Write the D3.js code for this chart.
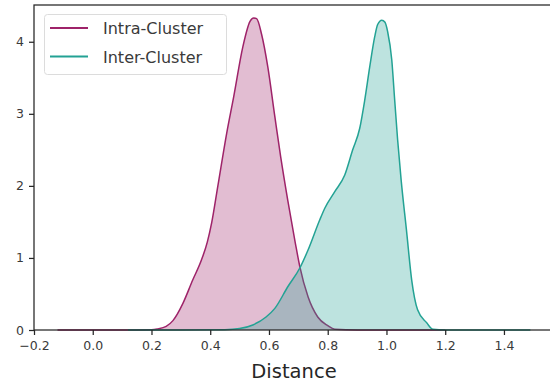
<!DOCTYPE html>
<html>
<head>
<meta charset="utf-8">
<script src="https://cdn.jsdelivr.net/npm/d3@7"></script>
<style>
  body { margin: 0; background: #fff; }
  svg { font-family: "DejaVu Sans", sans-serif; }
</style>
</head>
<body>
<svg id="chart" width="550" height="383"></svg>
<script>
// kde curves
const intraX = [-0.12, 0.0, 0.1, 0.2, 0.22, 0.25, 0.273, 0.307, 0.34, 0.37, 0.39, 0.405, 0.426, 0.456, 0.48, 0.511, 0.535, 0.548, 0.558, 0.575, 0.596, 0.62, 0.64, 0.664, 0.69, 0.705, 0.733, 0.766, 0.8, 0.824, 0.9, 1.0, 1.2];
const intraY = [0, 0, 0, 0.005, 0.015, 0.05, 0.13, 0.37, 0.69, 0.97, 1.22, 1.49, 2.0, 2.73, 3.24, 3.93, 4.28, 4.33, 4.32, 4.1, 3.65, 2.96, 2.4, 1.8, 1.2, 0.88, 0.46, 0.18, 0.06, 0.01, 0, 0, 0];
const interX = [0.12, 0.3, 0.45, 0.5, 0.545, 0.59, 0.62, 0.664, 0.705, 0.733, 0.773, 0.79, 0.824, 0.858, 0.885, 0.909, 0.926, 0.943, 0.96, 0.97, 0.984, 0.995, 1.004, 1.018, 1.028, 1.038, 1.05, 1.068, 1.086, 1.106, 1.137, 1.158, 1.2, 1.49];
const interY = [0, 0, 0.005, 0.02, 0.07, 0.18, 0.3, 0.6, 0.86, 1.11, 1.53, 1.69, 1.92, 2.15, 2.5, 2.8, 3.19, 3.65, 4.07, 4.24, 4.3, 4.27, 4.14, 3.75, 3.19, 2.64, 2.08, 1.39, 0.69, 0.28, 0.1, 0.01, 0, 0];

const seriesNames = ["Intra-Cluster", "Inter-Cluster"];
const seriesColors = ["#9e2369", "#23a294"];
const xTicks = [-0.2, 0.0, 0.2, 0.4, 0.6, 0.8, 1.0, 1.2, 1.4];
const yTicks = [0, 1, 2, 3, 4];

const svg = d3.select("#chart");
const margin = {top: 5, left: 34, bottom: 53};
const width = 550, height = 383;

const x = d3.scaleLinear().domain([-0.2, 1.6]).range([margin.left, 562.7]);
const y = d3.scaleLinear().domain([0, 4.51]).range([height - margin.bottom, margin.top]);

const series = [
    {name: seriesNames[0], color: seriesColors[0], pts: intraX.map((v, i) => [v, intraY[i]])},
    {name: seriesNames[1], color: seriesColors[1], pts: interX.map((v, i) => [v, interY[i]])}
];

let area = d3.area().x(d => x(d[0])).y0(y(0)).y1(d => y(d[1])).curve(d3.curveMonotoneX);
let line = d3.line().x(d => x(d[0])).y(d => y(d[1])).curve(d3.curveMonotoneX);

series.forEach(s => {
    svg.append("path").attr("d", area(s.pts))
        .attr("fill", s.color).attr("fill-opacity", 0.3);
    svg.append("path").attr("d", line(s.pts))
        .attr("fill", "none").attr("stroke", s.color).attr("stroke-width", 1.5);
});

// spines
svg.append("rect")
    .attr("x", margin.left).attr("y", margin.top)
    .attr("width", 600).attr("height", y(0) - margin.top)
    .attr("fill", "none").attr("stroke", "#262626").attr("stroke-width", 1.25);

let xAxis = svg.append("g").attr("transform", "translate(0," + y(0) + ")")
    .call(d3.axisBottom(x).tickValues(xTicks).tickSize(5).tickPadding(6)
        .tickFormat(d => d < 0 ? "\u22120.2" : d3.format(".1f")(d)));
let yAxis = svg.append("g").attr("transform", "translate(" + margin.left + ",0)")
    .call(d3.axisLeft(y).tickValues(yTicks).tickSize(5).tickPadding(5).tickFormat(d3.format("d")));

[xAxis, yAxis].forEach(a => {
    a.select(".domain").remove();
    a.selectAll(".tick line").attr("stroke", "#262626").attr("stroke-width", 1.25);
    a.selectAll(".tick text").attr("fill", "#3a3a3a")
        .style("font-size", "12.5px").style("font-family", "DejaVu Sans");
});

svg.append("text")
    .attr("x", (margin.left + 550) / 2 + 2).attr("y", 378)
    .attr("text-anchor", "middle").attr("fill", "#262626")
    .style("font-size", "19.5px").text("Distance");

// legend
let legend = svg.append("g");
legend.append("rect")
    .attr("x", 44.5).attr("y", 14.5).attr("width", 182).attr("height", 60)
    .attr("rx", 3).attr("fill", "#fff").attr("fill-opacity", 0.8)
    .attr("stroke", "#dcdcdc");
series.forEach((s, i) => {
    let ly = 28 + i * 28.5;
    legend.append("line").attr("x1", 50).attr("x2", 88).attr("y1", ly).attr("y2", ly)
        .attr("stroke", s.color).attr("stroke-width", 2);
    legend.append("text").attr("x", 103).attr("y", ly + 6)
        .attr("fill", "#3a3a3a").style("font-size", "16px").text(s.name);
});
</script>
</body>
</html>
